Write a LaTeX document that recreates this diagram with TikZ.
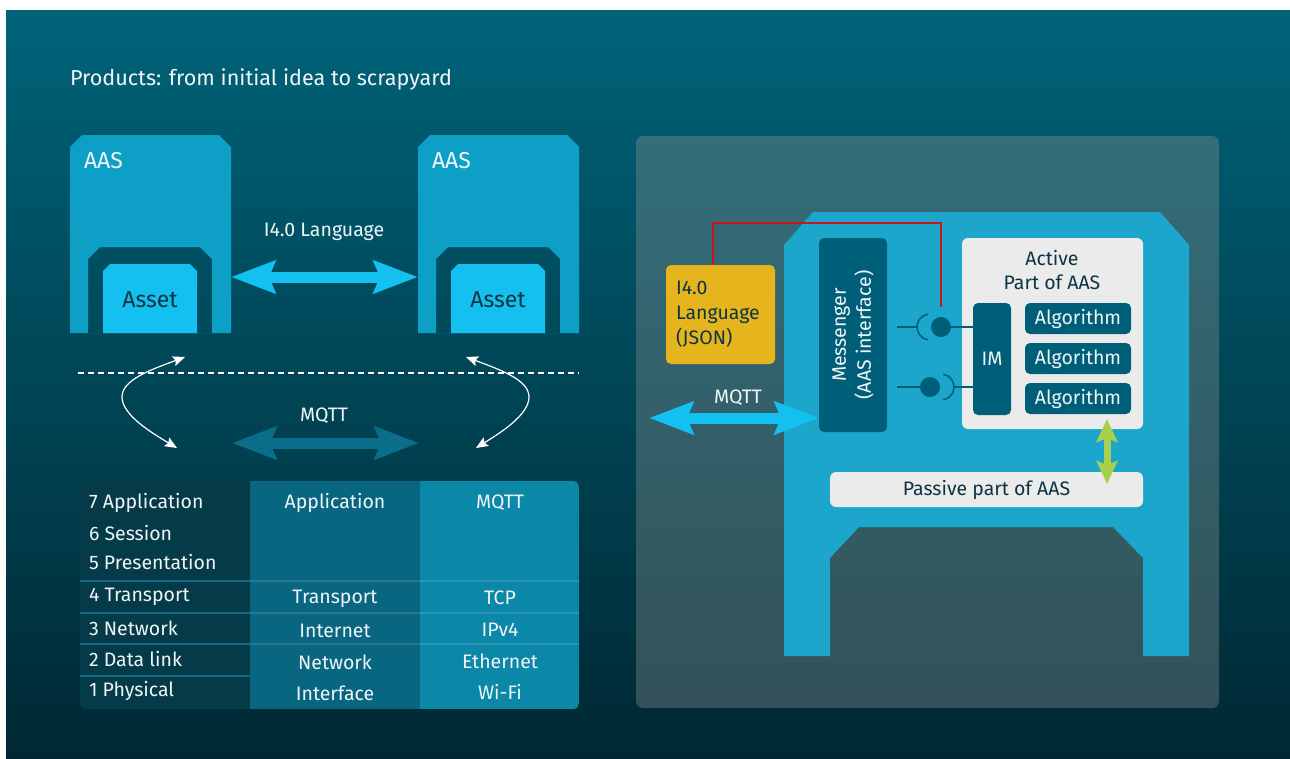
\documentclass[tikz,border=0pt]{standalone}
\usepackage{fontspec}
\setmainfont{Fira Sans}
\usetikzlibrary{arrows.meta,calc}
\definecolor{bgtop}{RGB}{0,99,121}
\definecolor{bgbot}{RGB}{0,40,51}
\definecolor{aascol}{RGB}{14,159,199}
\definecolor{assetcol}{RGB}{20,192,240}
\definecolor{darktext}{RGB}{12,52,66}
\definecolor{bigaas}{RGB}{28,166,204}
\definecolor{msgcol}{RGB}{0,95,120}
\definecolor{lgray}{RGB}{235,235,235}
\definecolor{jsoncol}{RGB}{230,181,30}
\definecolor{redcol}{RGB}{200,20,30}
\definecolor{greencol}{RGB}{168,208,78}
\definecolor{mqttdark}{RGB}{10,110,138}
\definecolor{colA}{RGB}{5,58,72}
\definecolor{colB}{RGB}{8,102,128}
\definecolor{colC}{RGB}{11,135,168}
\definecolor{sepA}{RGB}{18,105,130}
\definecolor{txtw}{RGB}{240,245,247}
\definecolor{panelcol}{RGB}{144,148,146}
\tikzset{
  lbl/.style={text=txtw, font=\fontsize{19.5}{24}\selectfont},
  tbl/.style={text=txtw, font=\fontsize{19.5}{24}\selectfont},
  darklbl/.style={text=darktext, font=\fontsize{19.5}{24}\selectfont},
  bigarrow/.style={line width=11pt, {Stealth[length=44pt,width=32pt,inset=6pt]}-{Stealth[length=44pt,width=32pt,inset=6pt]}},
  curvearrow/.style={draw=white, line width=1.2pt, {Stealth[length=12pt,width=10pt,inset=2pt]}-{Stealth[length=12pt,width=10pt,inset=2pt]}},
  algbox/.style={fill=msgcol, rounded corners=5pt, minimum width=106pt, minimum height=31pt, text=txtw, font=\fontsize{19.5}{24}\selectfont},
  sock/.style={draw=msgcol, line width=1.5pt},
}
\newcommand\AASunit[2]{%
  \fill[aascol, even odd rule] (#1,333) -- (#1,147) -- ++(12,-12) -- ++(137,0) -- ++(12,12) -- (#1+161,333) -- cycle
     (#1+18,333) -- (#1+18,259) -- ++(12,-12) -- ++(100,0) -- ++(12,12) -- (#1+142,333) -- cycle;
  \fill[assetcol] (#1+33,333) -- (#1+33,271) -- ++(7,-7) -- ++(80,0) -- ++(7,7) -- (#1+127,333) -- cycle;
  \node[anchor=west, text=txtw, font=\fontsize{23}{26}\selectfont] (aaslbl#2) at (#1+14,161) {AAS};
  \node[text=darktext, font=\fontsize{23}{26}\selectfont] (asset#2) at (#1+80,300) {Asset};
}
\begin{document}
\begin{tikzpicture}[x=1pt,y=-1pt, every node/.style={inner sep=0pt, outer sep=0pt}]
\useasboundingbox (0,0) rectangle (1290,758);
\fill[white] (0,0) rectangle (1290,758);
\shade[top color=bgtop, bottom color=bgbot] (6,10) rectangle (1290,758);

\node[anchor=west, text=txtw, font=\fontsize{21.6}{26}\selectfont] (title) at (70,79) {Products: from initial idea to scrapyard};

% left AAS units
\AASunit{70}{1}
\AASunit{418}{2}
\coordinate (aas1e) at (231,277);
\coordinate (aas2w) at (418,277);
\draw[bigarrow, assetcol] (aas1e) -- (aas2w);
\node[lbl] (i40) at (324,232) {I4.0 Language};

% dashed line
\coordinate (dashL) at (78,373);
\coordinate (dashR) at (579,373);
\draw[white, line width=1.3pt, dash pattern=on 6pt off 4pt] (dashL) -- (dashR);

% curved arrows
\coordinate (cl1) at (185,357);
\coordinate (cl2) at (177,448);
\coordinate (cr1) at (466,357);
\coordinate (cr2) at (476,448);
\draw[curvearrow] (cl1) .. controls (150,370) and (122,380) .. (122,397) .. controls (122,415) and (152,433) .. (cl2);
\draw[curvearrow] (cr1) .. controls (501,370) and (529,380) .. (529,397) .. controls (529,415) and (500,433) .. (cr2);

% MQTT arrow left
\coordinate (mqL) at (232,443);
\coordinate (mqR) at (419,443);
\draw[bigarrow, mqttdark] (mqL) -- (mqR);
\node[lbl] (mqttlbl) at (324,416) {MQTT};

% table
\begin{scope}
\clip[rounded corners=6pt] (80,481) rectangle (579,709);
\fill[colA] (80,481) rectangle (250,709);
\fill[colB] (250,481) rectangle (420,709);
\fill[colC] (420,481) rectangle (579,709);
\foreach \yy in {581,613,644} {
  \draw[sepA, line width=1.3pt] (80,\yy) -- (250,\yy);
  \draw[white, opacity=0.13, line width=1.3pt] (250,\yy) -- (579,\yy);
}
\draw[sepA, line width=1.3pt] (80,676) -- (250,676);
\end{scope}
\node[tbl, anchor=west] (o7) at (89,503) {7 Application};
\node[tbl, anchor=west] (o6) at (89,533) {6 Session};
\node[tbl, anchor=west] (o5) at (89,562) {5 Presentation};
\node[tbl, anchor=west] (o4) at (89,597) {4 Transport};
\node[tbl, anchor=west] (o3) at (89,628) {3 Network};
\node[tbl, anchor=west] (o2) at (89,659) {2 Data link};
\node[tbl, anchor=west] (o1) at (89,691) {1 Physical};
\node[tbl] (t1) at (335,503) {Application};
\node[tbl] (t2) at (335,599) {Transport};
\node[tbl] (t3) at (335,631) {Internet};
\node[tbl] (t4) at (335,662) {Network};
\node[tbl] (t5) at (335,693) {Interface};
\node[tbl] (m1) at (500,503) {MQTT};
\node[tbl] (m2) at (500,598) {TCP};
\node[tbl] (m3) at (500,630) {IPv4};
\node[tbl] (m4) at (500,661) {Ethernet};
\node[tbl] (m5) at (500,692) {Wi-Fi};

% right panel
\fill[panelcol, opacity=0.36, rounded corners=7pt] (636,136) rectangle (1219,708);
\fill[bigaas] (784,656) -- (784,245) -- (813,212) -- (1160,212) -- (1189,245) -- (1189,656) -- (1143,656) -- (1143,558) -- (1113,527) -- (859,527) -- (830,558) -- (830,656) -- cycle;

\node[fill=msgcol, rounded corners=5pt, rotate=90, minimum width=194pt, minimum height=68pt, align=center, text=txtw, font=\fontsize{19.5}{25}\selectfont] (msg) at (853,335) {Messenger\\(AAS interface)};

\node[fill=lgray, rounded corners=6pt, minimum width=181pt, minimum height=191pt] (active) at (1052.5,333.5) {};
\node[darklbl, align=center, anchor=north] (activelbl) at (1052,250.5) {Active\\Part of AAS};
\node[fill=msgcol, rounded corners=5pt, minimum width=38pt, minimum height=112pt, text=txtw, font=\fontsize{19.5}{24}\selectfont] (im) at (992,359) {IM};
\node[algbox] (alg1) at (1078,318.5) {Algorithm};
\node[algbox] (alg2) at (1078,358.5) {Algorithm};
\node[algbox] (alg3) at (1078,398.5) {Algorithm};

\node[fill=lgray, rounded corners=6pt, minimum width=313pt, minimum height=35pt, darklbl] (passive) at (986.5,489.5) {Passive part of AAS};

\node[fill=jsoncol, rounded corners=5pt, minimum width=109pt, minimum height=99pt, text width=89pt, align=left, text=darktext, font=\fontsize{19.5}{25}\selectfont] (json) at (720.5,314.5) {I4.0\\Language\\(JSON)};

% sockets
\coordinate (ball1) at (941,327);
\coordinate (ball2) at (930,387);
\draw[sock] (897,327) -- (917,327);
\draw[sock] (930,327) ++(100:13) arc[start angle=100, end angle=260, radius=13];
\fill[msgcol] (ball1) circle[radius=10];
\draw[sock] (ball1) -- (ball1 -| im.west);
\draw[sock] (897,387) -- (ball2);
\fill[msgcol] (ball2) circle[radius=10];
\draw[sock] (941,387) ++(-80:13) arc[start angle=-80, end angle=80, radius=13];
\draw[sock] (954,387) -- (954,387 -| im.west);

% red line
\coordinate (redend) at (941,307);
\draw[redcol, line width=2pt] ($(json.north west)+(47,0)$) |- ($(redend)+(0,-84)$) -- (redend);

% green arrow
\coordinate (gtop) at (1107,419);
\coordinate (gbot) at (1107,484);
\draw[greencol, line width=7pt, {Stealth[length=23pt,width=21pt,inset=4pt]}-{Stealth[length=23pt,width=21pt,inset=4pt]}] (gtop) -- (gbot);

% MQTT arrow right
\coordinate (mq2L) at (649,418);
\draw[bigarrow, assetcol] (mq2L) -- (msg.north |- mq2L);
\node[lbl] (mqtt2) at (738,398) {MQTT};
\end{tikzpicture}
\end{document}
